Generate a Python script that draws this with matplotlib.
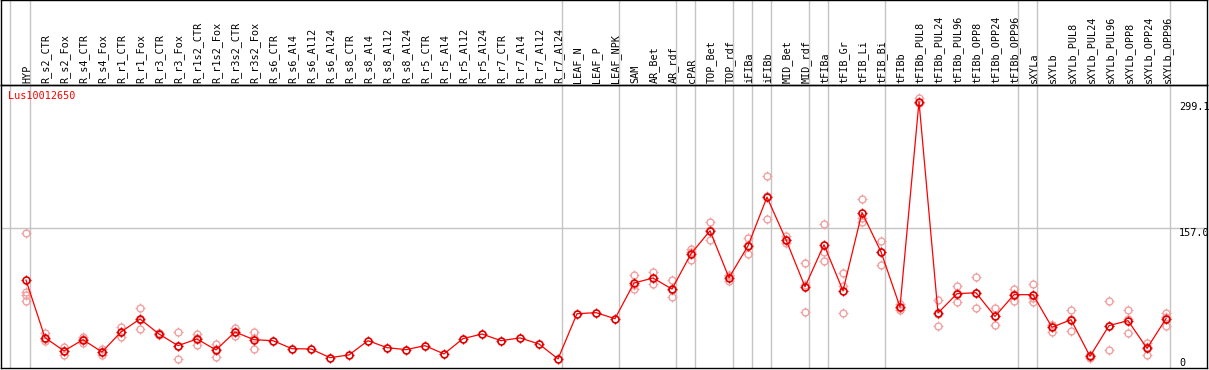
import matplotlib
matplotlib.use("Agg")
import matplotlib.pyplot as plt
import numpy as np
from matplotlib.path import Path

# ---------------- data ----------------
samples = ["HYP", "R_s2_CTR", "R_s2_Fox", "R_s4_CTR", "R_s4_Fox", "R_r1_CTR", "R_r1_Fox",
           "R_r3_CTR", "R_r3_Fox", "R_r1s2_CTR", "R_r1s2_Fox", "R_r3s2_CTR", "R_r3s2_Fox",
           "R_s6_CTR", "R_s6_Al4", "R_s6_Al12", "R_s6_Al24", "R_s8_CTR", "R_s8_Al4", "R_s8_Al12",
           "R_s8_Al24", "R_r5_CTR", "R_r5_Al4", "R_r5_Al12", "R_r5_Al24", "R_r7_CTR", "R_r7_Al4",
           "R_r7_Al12", "R_r7_Al24", "LEAF_N", "LEAF_P", "LEAF_NPK", "SAM", "AR_Bet", "AR_rdf",
           "cPAR", "TOP_Bet", "TOP_rdf", "iFIBa", "iFIBb", "MID_Bet", "MID_rdf", "tFIBa",
           "tFIB_Gr", "tFIB_Li", "tFIB_Bi", "tFIBb", "tFIBb_PUL8", "tFIBb_PUL24", "tFIBb_PUL96",
           "tFIBb_OPP8", "tFIBb_OPP24", "tFIBb_OPP96", "sXYLa", "sXYLb", "sXYLb_PUL8",
           "sXYLb_PUL24", "sXYLb_PUL96", "sXYLb_OPP8", "sXYLb_OPP24", "sXYLb_OPP96"]

mean_values = [98.6, 33.9, 19.0, 31.6, 17.8, 40.3, 54.9, 38.0, 24.9, 32.4, 20.1, 40.3, 31.6,
               30.5, 21.5, 21.2, 11.4, 14.5, 30.5, 22.7, 20.4, 24.9, 15.6, 32.8, 38.0, 30.5,
               33.6, 26.8, 10.0, 60.8, 62.0, 55.2, 95.3, 100.9, 88.5, 128.2, 154.0, 101.2,
               137.1, 191.8, 143.9, 91.1, 138.3, 86.6, 174.5, 130.4, 68.3, 299.1, 61.6, 83.3,
               84.4, 57.8, 82.2, 82.2, 45.5, 54.1, 12.9, 47.4, 53.0, 21.9, 55.2]

# replicate values (index of sample -> values)
replicates = {
    0: [151.4, 84.7, 82.2, 75.1],
    1: [38.7, 30.2, 32.8],
    2: [23.0, 14.8, 19.2],
    3: [32.8, 27.9, 34.1],
    4: [20.8, 14.8, 17.8],
    5: [45.5, 35.0, 40.4],
    6: [67.2, 43.6, 53.9],
    7: [38.7, 36.5, 38.8],
    8: [40.3, 10.0, 24.4],
    9: [37.6, 25.7, 33.9],
    10: [26.8, 12.2, 21.3],
    11: [44.3, 35.8, 40.8],
    12: [40.6, 20.8, 33.4],
    32: [104.3, 88.5, 93.1],
    33: [108.0, 94.2, 100.5],
    34: [98.6, 79.1, 87.8],
    35: [133.4, 121.4, 129.8],
    36: [163.7, 143.1, 155.2],
    37: [102.7, 97.1, 103.8],
    38: [145.8, 127.4, 138.1],
    39: [215.4, 167.1, 192.9],
    40: [147.6, 140.2, 143.9],
    41: [117.7, 62.7, 92.9],
    42: [161.5, 130.7, 119.5],
    43: [106.5, 91.5, 61.6],
    44: [189.6, 168.2, 164.4],
    45: [142.4, 130.7, 115.5],
    46: [72.1, 65.3, 67.5],
    47: [302.9, 297.3, 297.1],
    48: [76.5, 47.4, 60.9],
    49: [91.5, 74.0, 84.4],
    50: [102.0, 67.2, 84.0],
    51: [67.2, 47.7, 58.5],
    52: [88.5, 74.6, 83.5],
    53: [94.2, 73.5, 78.9],
    54: [48.5, 40.3, 47.7],
    55: [65.3, 41.8, 55.2],
    56: [14.8, 11.1, 12.8],
    57: [75.4, 20.1, 46.7],
    58: [65.3, 39.2, 54.5],
    59: [27.9, 14.8, 23.0],
    60: [61.6, 47.4, 56.6],
}

group_ends = [0, 28, 31, 34, 35, 37, 38, 39, 41, 42, 45, 52, 53, 60]
y_ticks = [0, 157.0, 299.1]
y_tick_labels = ["0", "157.0", "299.1"]
gene_name = "Lus10012650"

# ---------------- figure ----------------
W, H = 1209, 370
fig = plt.figure(figsize=(W / 100, H / 100), dpi=100)
fig.patch.set_facecolor("white")

mono = "DejaVu Sans Mono"
grid_c = "#c4c4c4"

ax_left, ax_right = 1, 1207
head_top, head_bot, plot_bot = 0, 85, 368
step = 19.0
x0px = 26.0
xlim = ((ax_left - x0px) / step, (ax_right - x0px) / step)

ax = fig.add_axes([ax_left / W, (H - plot_bot) / H, (ax_right - ax_left) / W,
                   (plot_bot - head_bot) / H])
axh = fig.add_axes([ax_left / W, (H - head_bot) / H, (ax_right - ax_left) / W,
                    (head_bot - head_top) / H], sharex=ax)

ax.set_xlim(*xlim)
ax.set_ylim(-0.2, 317.8)
axh.set_ylim(0, 1)

for a in (ax, axh):
    a.set_xticks([])
    a.set_yticks([])
    for s in a.spines.values():
        s.set_linewidth(1.0)
        s.set_color("black")
    a.patch.set_alpha(0)

# vertical separators
off = 4.0 / step
sep_x = [-16.0 / step] + [g + off for g in group_ends]
for a in (ax, axh):
    for sx in sep_x:
        a.axvline(sx, color=grid_c, lw=1.0, zorder=0)

# horizontal grid at middle tick
ax.axhline(y_ticks[1], color=grid_c, lw=1.0, zorder=0)

# tick marker: four short strokes around the circle
tick_segs = []
for dx, dy in [(0, 1), (0, -1), (1, 0), (-1, 0)]:
    tick_segs.append(Path([(dx * 0.72, dy * 0.72), (dx * 1.0, dy * 1.0)],
                          [Path.MOVETO, Path.LINETO]))
tick_path = Path.make_compound_path(*tick_segs)

x = np.arange(len(samples))
circ_ms = 5.0
tick_ms = 7.0

# replicates
for i, vals in replicates.items():
    xi = [i] * len(vals)
    ax.plot(xi, vals, linestyle="none", marker="o", ms=circ_ms,
            mfc="none", mec="#f2a0a0", mew=1.0, zorder=2)
    ax.plot(xi, vals, linestyle="none", marker=tick_path, ms=tick_ms,
            mfc="none", mec="#f2a0a0", mew=0.8, zorder=2)

# mean line + markers
ax.plot(x, mean_values, color="red", lw=0.9, zorder=3)
ax.plot(x, mean_values, linestyle="none", marker="o", ms=circ_ms, mfc="none",
        mec="#e00000", mew=1.2, zorder=4)
ax.plot(x, mean_values, linestyle="none", marker=tick_path, ms=tick_ms, mfc="none",
        mec="#e00000", mew=0.9, zorder=4)

# header labels
for i, name in enumerate(samples):
    axh.annotate(name, xy=(i, 0), xytext=(1, 2), textcoords="offset pixels",
                 rotation=90, ha="center", va="bottom", fontsize=7.3, family=mono,
                 color="black")

# y value labels
tx = (1179 - x0px) / step
ax.text(tx, y_ticks[2], y_tick_labels[2], ha="left", va="top", fontsize=7.3, family=mono)
ax.text(tx, y_ticks[1], y_tick_labels[1], ha="left", va="top", fontsize=7.3, family=mono)
ax.text(tx, y_ticks[0], y_tick_labels[0], ha="left", va="bottom", fontsize=7.3, family=mono)

# gene name
fig.text(8 / W, 1 - 91 / H, gene_name, ha="left", va="top", fontsize=7.3, family=mono,
         color="red")

fig.savefig("out.png", dpi=100, facecolor="white")
